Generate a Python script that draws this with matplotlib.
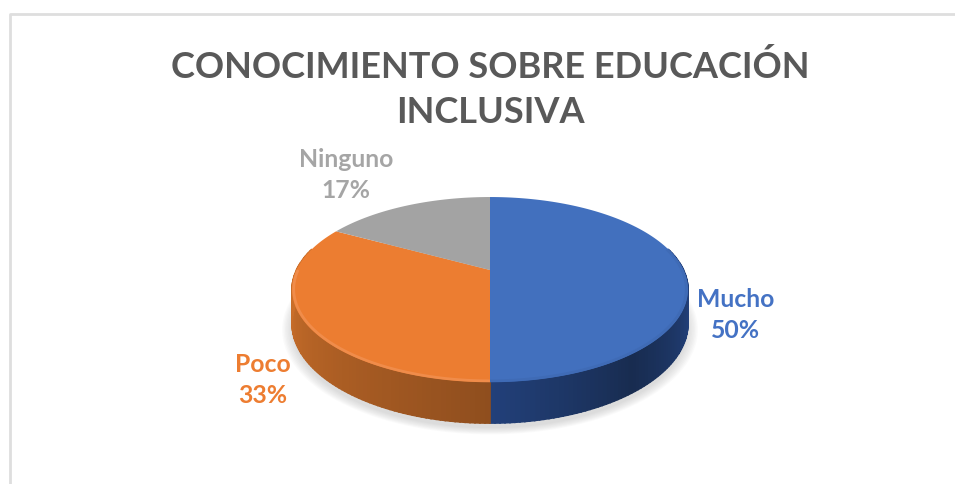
import numpy as np
import matplotlib
matplotlib.use('Agg')
import matplotlib.pyplot as plt

title = 'CONOCIMIENTO SOBRE EDUCACIÓN\nINCLUSIVA'
categories = ['Mucho', 'Poco', 'Ninguno']
values = [50, 33, 17]
percent_labels = ['50%', '33%', '17%']

colors = ['#4270BE', '#EC7D31', '#A3A3A3']
text_colors = ['#4472C4', '#ED7D31', '#A5A5A5']
wall_light = {'Mucho': '#22407A', 'Poco': '#CB6F2A'}
wall_dark = {'Mucho': '#182C50', 'Poco': '#8F4E1E'}
label_pos = {'Mucho': (736, 315), 'Poco': (263, 380), 'Ninguno': (346, 175)}

plt.rcParams['font.family'] = ['Lato', 'DejaVu Sans']

# perspective of the tilted disc, in pixels of the figure
CX, CY = 490, 270
R = 193.5
PERSP = 0.211
SLOPE = -31.4
DEPTH = 32.4


def project(theta, radius=1.0, drop=0.0):
    # theta is clockwise from 12 o'clock
    u = radius * np.sin(theta)
    v = radius * np.cos(theta)
    d = 1 + PERSP * v
    return CX + R * u / d, (SLOPE * v + CY + DEPTH * drop) / d


def mix(c1, c2, t):
    a = np.array(matplotlib.colors.to_rgb(c1))
    b = np.array(matplotlib.colors.to_rgb(c2))
    return tuple(a + (b - a) * t)


fig = plt.figure(figsize=(9.55, 4.84), dpi=100)
ax = fig.add_axes([0, 0, 1, 1])
ax.set_xlim(0, 955)
ax.set_ylim(484, 0)
ax.axis('off')

# chart frame
ax.plot([955, 9.5, 9.5], [13.5, 13.5, 484], color='#DEDEDE', lw=2, zorder=1)

# soft shadow under the disc
t = np.linspace(0, 2 * np.pi, 200)
for grow in np.linspace(1.05, 1.0, 8):
    sx, sy = project(t, 1.0, 1.0)
    ax.fill(CX + (sx - CX) * grow, 296 + (sy - 296) * grow + 5, color='#808080',
            alpha=0.035, lw=0, zorder=2)

# angles of the slices, clockwise from the top
fractions = np.array(values) / sum(values)
edges = np.concatenate([[0], np.cumsum(fractions)]) * 2 * np.pi

# side wall, drawn strip by strip so it gets a gradient
for name, start, end in zip(categories, edges[:-1], edges[1:]):
    if name not in wall_light:
        continue
    lo = max(start, np.pi / 2 - 0.25)
    hi = min(end, 3 * np.pi / 2 + 0.25)
    steps = np.linspace(lo, hi, 90)
    for a, b in zip(steps[:-1], steps[1:]):
        dist = abs((a + b) / 2 - np.pi)
        if name == 'Mucho':
            shade = 1 - min(abs(dist - 0.65) / 0.65, 1)
        else:
            shade = 1 - min(dist / 1.5, 1)
        x0, y0 = project(a)
        x1, y1 = project(b)
        x2, y2 = project(b, drop=1.0)
        x3, y3 = project(a, drop=1.0)
        ax.fill([x0, x1, x2, x3], [y0, y1, y2, y3],
                color=mix(wall_light[name], wall_dark[name], shade),
                lw=1.2, zorder=3)

# top of the disc
for name, color, start, end in zip(categories, colors, edges[:-1], edges[1:]):
    th = np.linspace(start, end, 120)
    x, y = project(th)
    ax.fill(np.r_[CX, x], np.r_[CY, y], color=color, lw=0, zorder=4)

# bevel on the front rim
rim = {'Mucho': '#3F6BB6', 'Poco': '#F08C4A'}
for name, start, end in zip(categories, edges[:-1], edges[1:]):
    if name not in rim:
        continue
    th = np.linspace(max(start, np.pi / 2 - 0.25), min(end, 3 * np.pi / 2), 120)
    x, y = project(th, 0.992)
    ax.plot(x, y, color=rim[name], lw=2, solid_capstyle='butt', zorder=5)

ax.text(490, 89.5, title, ha='center', va='center', fontsize=26,
        fontweight='bold', color='#595959', linespacing=1.45, zorder=6)

for name, pct, color in zip(categories, percent_labels, text_colors):
    lx, ly = label_pos[name]
    ax.text(lx, ly, name + '\n' + pct, ha='center', va='center', fontsize=17.8,
            fontweight='bold', color=color, linespacing=1.42, zorder=6)

fig.savefig('out.png', dpi=100, facecolor='white')
